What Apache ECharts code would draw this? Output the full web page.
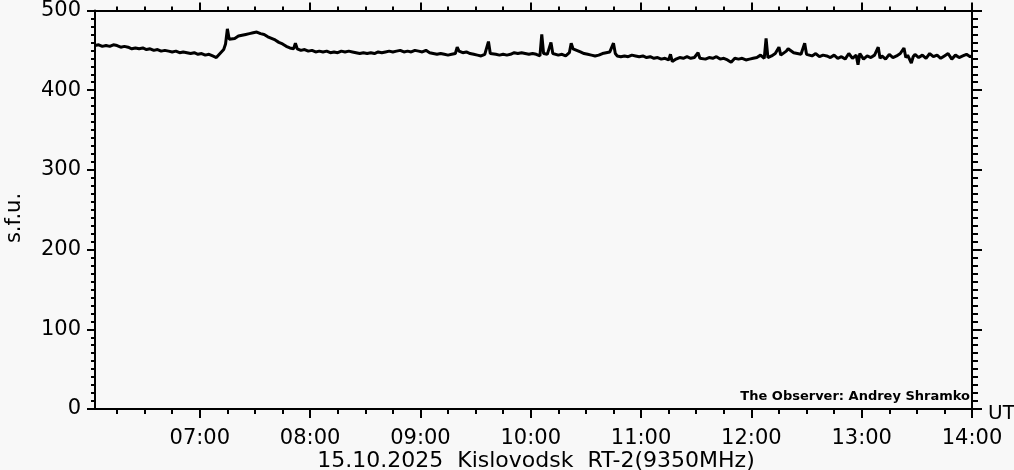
<!DOCTYPE html>
<html>
<head>
<meta charset="utf-8">
<script src="https://cdn.jsdelivr.net/npm/echarts@6/dist/echarts.min.js"></script>
<style>
html,body{margin:0;padding:0;background:#f8f8f8;}
#chart{width:1014px;height:470px;}
</style>
</head>
<body>
<div id="chart"></div>
<script>
// Observation times (UT)
const times = [
"06:03","06:05","06:07","06:09","06:11","06:13","06:15","06:17","06:19","06:21",
"06:23","06:25","06:27","06:29","06:31","06:33","06:35","06:37","06:39","06:41",
"06:43","06:45","06:47","06:49","06:51","06:53","06:55","06:57","06:59","07:01",
"07:03","07:05","07:07","07:09","07:11","07:13","07:14","07:15","07:16","07:17",
"07:19","07:21","07:23","07:25","07:27","07:29","07:31","07:33","07:35","07:37",
"07:39","07:41","07:43","07:45","07:47","07:49","07:51","07:52","07:53","07:55",
"07:57","07:59","08:01","08:03","08:05","08:07","08:09","08:11","08:13","08:15",
"08:17","08:19","08:21","08:23","08:25","08:27","08:29","08:31","08:33","08:35",
"08:37","08:39","08:41","08:43","08:45","08:47","08:49","08:51","08:53","08:55",
"08:57","08:59","09:01","09:03","09:05","09:07","09:09","09:11","09:13","09:15",
"09:17","09:19","09:20","09:21","09:23","09:25","09:27","09:29","09:31","09:33",
"09:35","09:37","09:38","09:39","09:41","09:43","09:45","09:47","09:49","09:51",
"09:53","09:55","09:57","09:59","10:01","10:03","10:05","10:06","10:07","10:09",
"10:11","10:12","10:13","10:15","10:17","10:19","10:21","10:22","10:23","10:25",
"10:27","10:29","10:31","10:33","10:35","10:37","10:39","10:41","10:43","10:45",
"10:46","10:47","10:49","10:51","10:53","10:55","10:57","10:59","11:01","11:03",
"11:05","11:07","11:09","11:11","11:13","11:15","11:16","11:17","11:19","11:21",
"11:23","11:25","11:27","11:29","11:31","11:32","11:33","11:35","11:37","11:39",
"11:41","11:43","11:45","11:47","11:49","11:51","11:53","11:55","11:57","11:59",
"12:01","12:03","12:05","12:07","12:08","12:09","12:11","12:13","12:15","12:16",
"12:17","12:19","12:20","12:21","12:23","12:25","12:27","12:29","12:30","12:31",
"12:33","12:35","12:37","12:39","12:41","12:43","12:45","12:47","12:49","12:51",
"12:53","12:55","12:57","12:58","12:59","13:01","13:03","13:05","13:07","13:09",
"13:10","13:11","13:13","13:15","13:17","13:19","13:21","13:23","13:24","13:25",
"13:27","13:28","13:29","13:31","13:33","13:35","13:37","13:39","13:41","13:43",
"13:45","13:47","13:49","13:51","13:53","13:55","13:57","13:59","14:00"
];
// Flux density (s.f.u.)
const flux = [
456,457,455,456,455,457,456,454,455,454,
452,453,452,453,451,452,450,451,449,450,
449,448,449,447,448,447,446,447,445,446,
444,445,443,441,446,451,458,477,464,466,
465,468,469,470,471,472,473,471,470,467,
465,463,460,458,455,453,452,459,452,450,
451,449,450,448,449,448,449,447,448,447,
449,448,449,448,447,446,447,446,447,446,
448,447,448,449,448,449,450,448,449,448,
450,449,448,450,447,446,445,446,445,444,
445,446,454,449,447,448,446,445,444,443,
445,461,446,444,445,444,445,444,445,447,
446,447,446,445,446,445,443,470,446,445,
460,446,445,444,445,443,447,459,452,450,
448,446,445,444,443,444,446,447,448,459,
446,443,442,443,442,444,443,442,443,441,
442,440,441,439,440,438,445,436,439,441,
440,442,440,441,447,440,441,439,441,440,
442,439,440,438,435,440,439,440,438,439,
440,441,444,440,465,441,443,446,454,444,
446,449,452,450,447,446,445,459,445,444,
443,446,442,444,443,441,444,440,442,439,
446,440,444,432,446,439,443,441,444,454,
440,443,439,445,441,443,446,453,441,444,
434,442,445,441,444,440,446,442,444,440,
443,446,439,444,441,443,445,442,443
];
// Axis tick values (minutes since 00:00 UT)
const hourTicks = [420,480,540,600,660,720,780,840];
const quarterTicks = [375,390,405,420,435,450,465,480,495,510,525,540,555,570,585,600,615,630,645,660,675,690,705,720,735,750,765,780,795,810,825,840];
const yMin = 0, yMax = 500, yStep = 100;
const xMin = 363, xMax = 840;

function toMin(t){const p=t.split(':');return (+p[0])*60+(+p[1]);}
function fmt(m){const h=Math.floor(m/60),mm=m%60;return (h<10?'0':'')+h+':'+(mm<10?'0':'')+mm;}
const data = times.map((t,i)=>[toMin(t), flux[i]]);

const FONT = 'DejaVu Sans';
const black = '#000';
const lineStyle = {color:black,width:2};

function xAx(pos, ticks, len, labels){
  return {
    type:'value', position:pos, min:xMin, max:xMax,
    axisLine:{show:true,onZero:false,lineStyle:lineStyle},
    axisTick:{show:true,inside:false,length:len,customValues:ticks,lineStyle:{color:black,width:2}},
    axisLabel:labels?{show:true,customValues:hourTicks,formatter:v=>fmt(v),color:black,fontFamily:FONT,fontSize:21,margin:19}:{show:false},
    splitLine:{show:false}
  };
}
function yAx(pos, labels){
  return {
    type:'value', position:pos, min:yMin, max:yMax, interval:yStep,
    axisLine:{show:true,onZero:false,lineStyle:lineStyle},
    axisTick:{show:true,inside:false,length:pos==='left'?8:10,lineStyle:{color:black,width:2}},
    minorTick:{show:true,splitNumber:10,length:pos==='left'?4:6,lineStyle:{color:black,width:2}},
    axisLabel:labels?{show:true,color:black,fontFamily:FONT,fontSize:21,margin:14}:{show:false},
    splitLine:{show:false}, minorSplitLine:{show:false}
  };
}

const chart = echarts.init(document.getElementById('chart'),null,{renderer:'canvas'});
chart.setOption({
  backgroundColor:'#f8f8f8',
  animation:false,
  grid:{left:95,right:42,top:8,bottom:61,containLabel:false},
  xAxis:[
    xAx('bottom', hourTicks, 9, true),
    xAx('bottom', quarterTicks, 5, false),
    xAx('top', hourTicks, 8, false),
    xAx('top', quarterTicks, 4, false)
  ],
  yAxis:[ yAx('left', true), yAx('right', false) ],
  graphic:[
    {type:'text',x:15,y:218,rotation:Math.PI/2,
     style:{text:'s.f.u.',fill:black,font:'21px "DejaVu Sans"',textAlign:'center',textVerticalAlign:'middle'}},
    {type:'text',x:988,y:404,style:{text:'UT',fill:black,font:'20px "DejaVu Sans"'}},
    {type:'text',x:536,y:450,style:{text:'15.10.2025  Kislovodsk  RT-2(9350MHz)',fill:black,font:'22px "DejaVu Sans"',textAlign:'center'}},
    {type:'text',x:970,y:390,style:{text:'The Observer: Andrey Shramko',fill:black,font:'bold 13px "DejaVu Sans"',textAlign:'right'}}
  ],
  series:[{
    type:'line', xAxisIndex:0, yAxisIndex:0, data:data,
    showSymbol:false, symbol:'none', lineStyle:{color:black,width:3}, clip:true
  }]
});
</script>
</body>
</html>
